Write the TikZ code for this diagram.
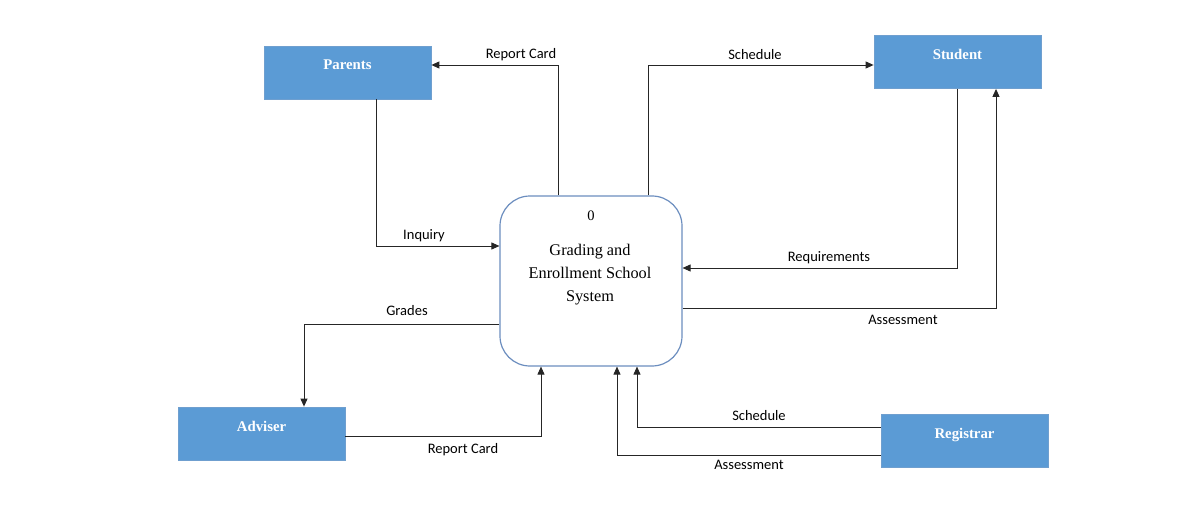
\documentclass[tikz,border=0pt]{standalone}
\usepackage{fontspec}
\setmainfont{Liberation Serif}
\newfontfamily\flowfont{Carlito}
\usetikzlibrary{arrows.meta}
\definecolor{entityfill}{HTML}{5B9BD5}
\definecolor{entityline}{HTML}{6F9FCF}
\definecolor{procline}{HTML}{6C8EBF}
\begin{document}
\begin{tikzpicture}[x=1pt,y=-1pt,
  entity/.style={draw=entityline,line width=0.8pt,fill=entityfill,
    minimum width=167pt,inner xsep=0pt,inner ysep=0pt,
    text height=24pt,text depth=29pt,text=white,
    font=\fontsize{14.8}{16}\selectfont\bfseries},
  process/.style={draw=procline,line width=1.2pt,rounded corners=30pt,
    minimum width=182pt,minimum height=170pt,inner sep=0pt},
  proctext/.style={font=\fontsize{16.3}{23}\selectfont,align=center,inner sep=0pt},
  flow/.style={draw=black!85,line width=0.9pt,-{Triangle[length=8pt,width=7pt]}},
  flowlabel/.style={font=\flowfont\fontsize{14.5}{16}\selectfont,inner sep=0pt}]
\useasboundingbox (0,0) rectangle (1179,524);

% external entities
\node[entity] (parents) at (347.5,72.5) {Parents};
\node[entity] (student) at (957.5,62) {Student};
\node[entity] (adviser) at (261.5,433.5) {Adviser};
\node[entity] (registrar) at (964.5,441) {Registrar};

% the process
\node[process] (proc) at (591,281) {};
\node[proctext,font=\fontsize{14.5}{16}\selectfont] (pnum) at ([yshift=-20pt]proc.north) {0};
\node[proctext] (pname) at (590,275) {Grading and\\Enrollment School\\System};

% bend points of the data flows
\coordinate (b1) at (558,65);
\coordinate (b2) at (648,65);
\coordinate (b3) at (376,246);
\coordinate (b4) at (957,268);
\coordinate (b5) at (996,308);
\coordinate (b6) at (304,324);
\coordinate (b7) at (541,436);
\coordinate (b8) at (637,427);
\coordinate (b9) at (617,455);

% data flows
\draw[flow] (proc.north -| b1) |- (parents.east |- b1);
\draw[flow] (proc.north -| b2) |- (student.west |- b2);
\draw[flow] (parents.south -| b3) |- (proc.west |- b3);
\draw[flow] (student.south -| b4) |- (proc.east |- b4);
\draw[flow] (proc.east |- b5) -| (student.south -| b5);
\draw[flow] (proc.west |- b6) -| (adviser.north -| b6);
\draw[flow] (adviser.east |- b7) -| (proc.south -| b7);
\draw[flow] (registrar.west |- b8) -| (proc.south -| b8);
\draw[flow] (registrar.west |- b9) -| (proc.south -| b9);

% flow labels
\node[flowlabel] (l1) at (521,55) {Report Card};
\node[flowlabel] (l2) at (755,55) {Schedule};
\node[flowlabel] (l3) at (424,236) {Inquiry};
\node[flowlabel] (l4) at (829,258) {Requirements};
\node[flowlabel] (l5) at (903,320) {Assessment};
\node[flowlabel] (l6) at (407,311) {Grades};
\node[flowlabel] (l7) at (463,450) {Report Card};
\node[flowlabel] (l8) at (759,416) {Schedule};
\node[flowlabel] (l9) at (749,465) {Assessment};
\end{tikzpicture}
\end{document}
